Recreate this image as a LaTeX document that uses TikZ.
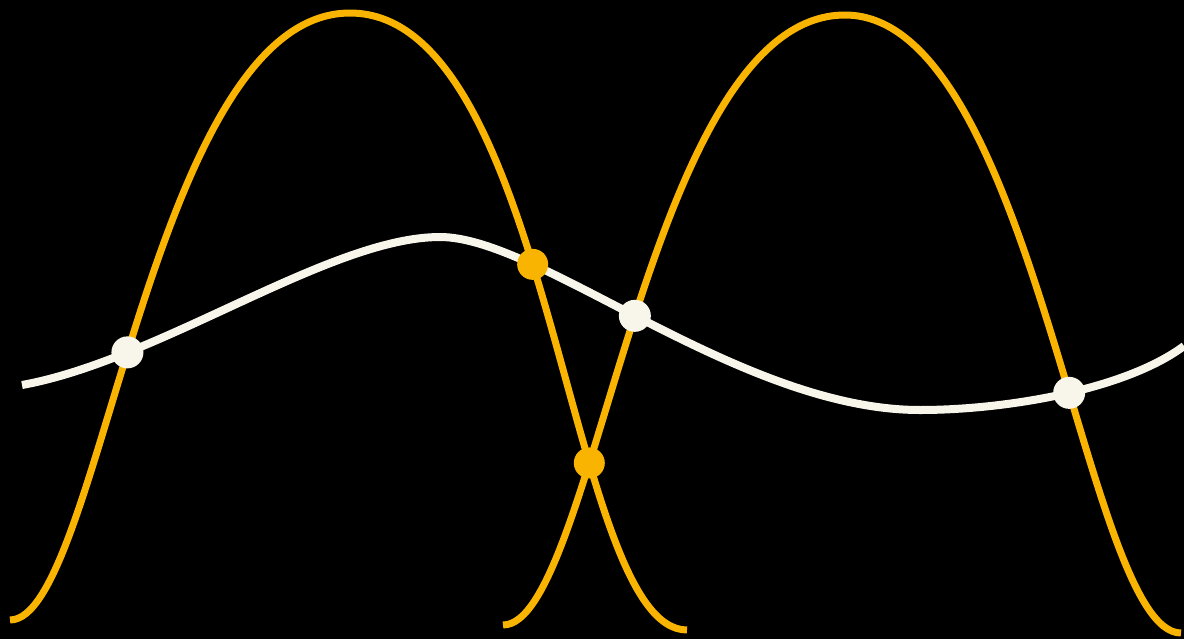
\documentclass[tikz,border=0pt]{standalone}
\usepackage{xcolor}
\usepackage{tikz}
\usetikzlibrary{intersections}
\definecolor{amber}{HTML}{F8B400}
\definecolor{cream}{HTML}{F8F6EA}
\tikzset{
  arch/.style={draw=amber, line width=0.07cm},
  wave/.style={draw=cream, line width=0.08cm},
  odot/.style={circle, fill=amber, minimum size=0.31cm, inner sep=0pt},
  wdot/.style={circle, fill=cream, minimum size=0.32cm, inner sep=0pt},
}
\begin{document}
\begin{tikzpicture}[x=0.01cm, y=-0.01cm]
\fill[black] (0,0) rectangle (1184,639);
\useasboundingbox (0,0) rectangle (1184,639);
% two orange arches
\draw[arch, name path=archL] (10,620) .. controls (100,620) and (150,13) .. (350,13)
  .. controls (553,13) and (567,630) .. (687,630);
\draw[arch, name path=archR] (503,625) .. controls (595,625) and (645,15) .. (845,15)
  .. controls (1035,15) and (1085,633) .. (1181,633);
% white wave
\draw[wave, name path=wave] (22,385) .. controls (160,360) and (330,237) .. (440,237)
  .. controls (540,237) and (740,410) .. (920,410)
  .. controls (1005,410) and (1125,390) .. (1184,346);
% crossing points
\path[name intersections={of=archL and wave, sort by=archL, name=lw}];
\path[name intersections={of=archR and wave, sort by=archR, name=rw}];
\path[name intersections={of=archL and archR, name=lr}];
\node[wdot] (w1) at (lw-1) {};
\node[odot] (o1) at (lw-2) {};
\node[odot] (o2) at (lr-1) {};
\node[wdot] (w2) at (rw-1) {};
\node[wdot] (w3) at (rw-2) {};
\end{tikzpicture}
\end{document}
